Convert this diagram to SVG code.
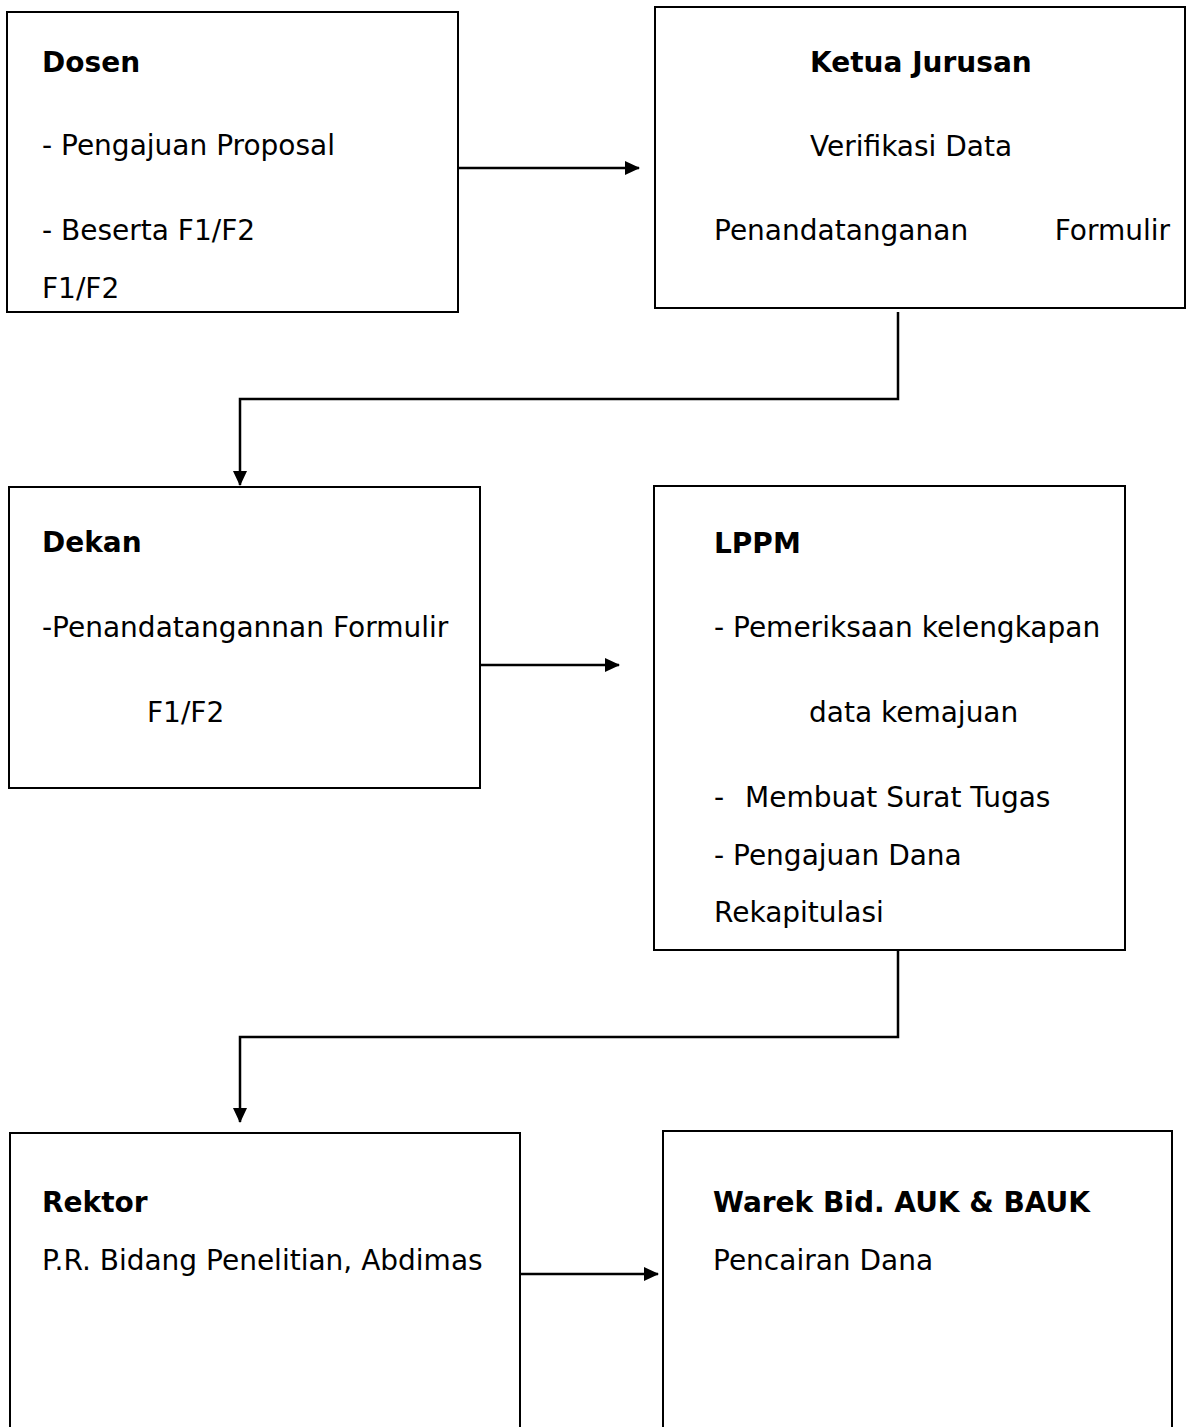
<svg xmlns="http://www.w3.org/2000/svg" width="1186" height="1427" viewBox="0 0 1186 1427">
<defs>
<style>
.box{fill:#fff;stroke:#000;stroke-width:2}
.t{font-family:"DejaVu Sans","Liberation Sans",sans-serif;font-size:28px;fill:#000}
.b{font-weight:bold}
.c{fill:none;stroke:#000;stroke-width:2.5}
</style>
<marker id="ah" markerWidth="15" markerHeight="14" refX="14" refY="7" orient="auto" markerUnits="userSpaceOnUse">
<path d="M0,0 L15,7 L0,14 Z" fill="#000"/>
</marker>
</defs>
<rect width="1186" height="1427" fill="#fff"/>
<g id="connectors">
<line class="c" x1="458" y1="168" x2="639" y2="168" marker-end="url(#ah)"/>
<polyline class="c" points="898,312 898,399 240,399 240,485" marker-end="url(#ah)"/>
<line class="c" x1="480" y1="665" x2="619" y2="665" marker-end="url(#ah)"/>
<polyline class="c" points="898,950 898,1037 240,1037 240,1122" marker-end="url(#ah)"/>
<line class="c" x1="520" y1="1274" x2="658" y2="1274" marker-end="url(#ah)"/>
</g>
<g id="dosen">
<rect class="box" x="7" y="12" width="451" height="300"/>
<text class="t b" x="42" y="72">Dosen</text>
<text class="t" x="42" y="155">- Pengajuan Proposal</text>
<text class="t" x="42" y="240">- Beserta F1/F2</text>
<text class="t" x="42" y="298">F1/F2</text>
</g>
<g id="ketua-jurusan">
<rect class="box" x="655" y="7" width="530" height="301"/>
<text class="t b" x="810" y="72">Ketua Jurusan</text>
<text class="t" x="810" y="156">Verifikasi Data</text>
<text class="t" x="714" y="240">Penandatanganan</text>
<text class="t" x="1170" y="240" text-anchor="end">Formulir</text>
</g>
<g id="dekan">
<rect class="box" x="9" y="487" width="471" height="301"/>
<text class="t b" x="42" y="552">Dekan</text>
<text class="t" x="42" y="637">-Penandatangannan Formulir</text>
<text class="t" x="147" y="722">F1/F2</text>
</g>
<g id="lppm">
<rect class="box" x="654" y="486" width="471" height="464"/>
<text class="t b" x="714" y="553">LPPM</text>
<text class="t" x="714" y="637">- Pemeriksaan kelengkapan</text>
<text class="t" x="809" y="722">data kemajuan</text>
<text class="t" x="714" y="807">-</text>
<text class="t" x="745" y="807">Membuat Surat Tugas</text>
<text class="t" x="714" y="865">- Pengajuan Dana</text>
<text class="t" x="714" y="922">Rekapitulasi</text>
</g>
<g id="rektor">
<rect class="box" x="10" y="1133" width="510" height="320"/>
<text class="t b" x="42" y="1212">Rektor</text>
<text class="t" x="42" y="1270">P.R. Bidang Penelitian, Abdimas</text>
</g>
<g id="warek">
<rect class="box" x="663" y="1131" width="509" height="320"/>
<text class="t b" x="713" y="1212">Warek Bid. AUK &amp; BAUK</text>
<text class="t" x="713" y="1270">Pencairan Dana</text>
</g>
</svg>
